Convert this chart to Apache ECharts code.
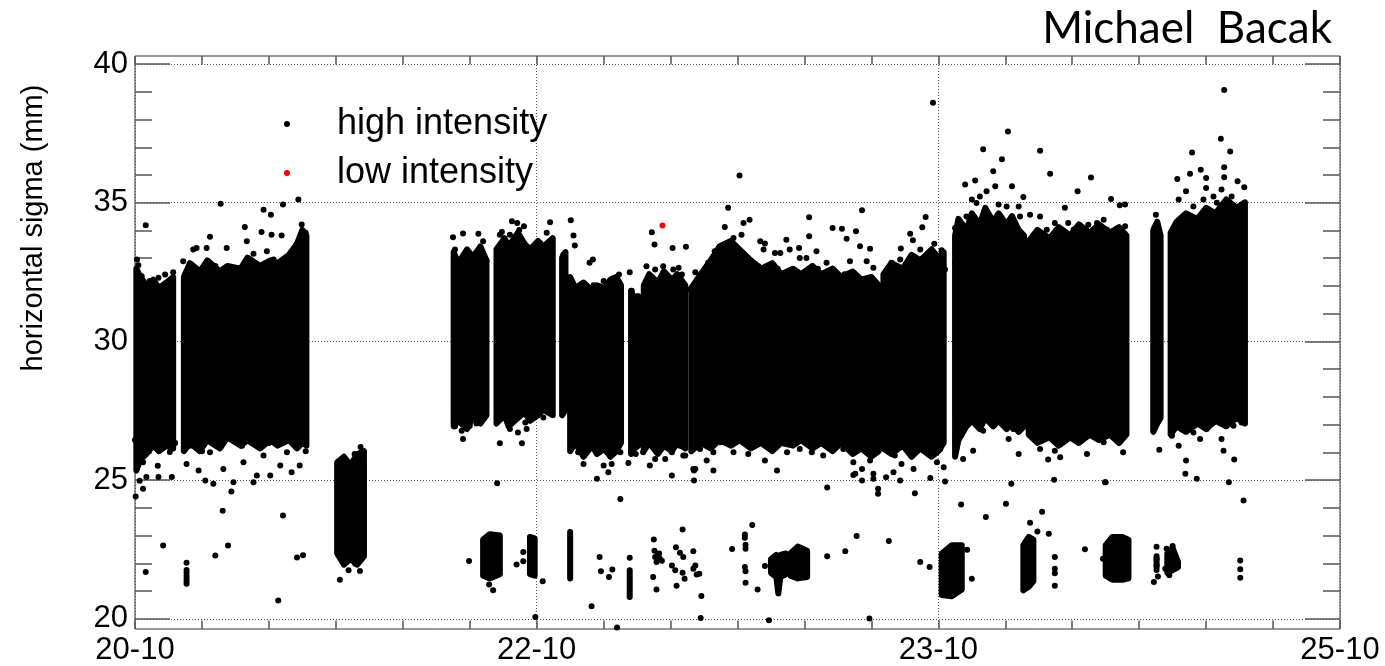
<!DOCTYPE html>
<html><head><meta charset="utf-8">
<script src="https://cdn.jsdelivr.net/npm/echarts@6/dist/echarts.min.js"></script>
<style>html,body{margin:0;padding:0;background:#fff}#chart{width:1385px;height:666px}</style>
</head><body><div id="chart"></div>
<script>
// ---- tick labels ----
const xLabelPos = [0, 6, 12, 18];
const xLabelText = ['20-10', '22-10', '23-10', '25-10'];
const yMajorTicks = [20, 25, 30, 35, 40];

// ---- outlines of the dense high-intensity clouds: [x, upper y, lower y] (x in axis units, 1 unit = one minor tick) ----
const c1 = [[0.02, 32.6, 25.3], [0.08, 32.3, 25.7], [0.17, 32.0, 25.9], [0.27, 32.2, 26.2], [0.36, 31.9, 26.0], [0.47, 32.1, 26.2], [0.57, 32.3, 26.1]];
const c2 = [[0.73, 32.3, 26.0], [0.82, 32.8, 26.3], [0.97, 32.5, 26.0], [1.08, 32.9, 26.4], [1.27, 32.5, 26.1], [1.38, 32.7, 26.5], [1.58, 32.6, 26.2], [1.68, 33.0, 26.4], [1.87, 32.7, 26.1], [2.02, 32.9, 26.4], [2.13, 32.8, 26.2], [2.3, 33.1, 26.4], [2.42, 33.5, 26.1], [2.5, 34.0, 26.3], [2.56, 33.8, 26.2]];
const c3 = [[3.02, 25.6, 22.3], [3.12, 25.8, 21.9], [3.22, 25.5, 22.1], [3.32, 25.9, 21.9], [3.42, 26.0, 22.2]];
const c4 = [[4.76, 33.2, 26.9], [4.83, 32.8, 27.1], [4.96, 33.3, 26.8], [5.04, 33.0, 27.2], [5.16, 33.4, 27.0], [5.25, 32.9, 27.3]];
const c5 = [[5.4, 33.3, 27.0], [5.52, 33.7, 27.3], [5.58, 33.4, 26.9], [5.72, 33.9, 27.2], [5.82, 33.5, 27.4], [5.9, 33.3, 27.1], [6.02, 33.6, 27.3], [6.1, 33.4, 27.5], [6.24, 33.7, 27.3]];
const c6 = [[6.38, 33.0, 27.3], [6.43, 33.2, 27.5]];
const c7 = [[6.5, 32.3, 26.0], [6.58, 31.9, 26.3], [6.7, 32.1, 25.8], [6.83, 31.8, 26.2], [6.9, 32.0, 25.9], [7.02, 31.9, 26.1], [7.1, 32.2, 25.8], [7.19, 32.3, 26.0], [7.26, 32.0, 26.3]];
const c8 = [[7.41, 31.8, 25.9], [7.46, 31.5, 26.1], [7.52, 31.6, 26.2]];
const c9 = [[7.6, 32.0, 26.0], [7.68, 32.4, 26.3], [7.81, 32.1, 25.9], [7.9, 32.5, 26.2], [8.02, 32.2, 26.0], [8.1, 32.4, 26.3], [8.22, 32.0, 26.1]];
const c10 = [[8.31, 31.9, 26.0], [8.45, 32.4, 26.3], [8.6, 32.9, 26.1], [8.73, 33.4, 26.4], [8.9, 33.6, 26.2], [9.03, 33.3, 26.4], [9.2, 32.9, 26.1], [9.35, 32.6, 26.3], [9.52, 32.8, 26.0], [9.65, 32.4, 26.3], [9.83, 32.6, 26.2], [9.95, 32.4, 26.4], [10.12, 32.7, 26.1], [10.25, 32.4, 26.3], [10.42, 32.6, 26.0], [10.55, 32.3, 26.3], [10.72, 32.5, 25.9], [10.85, 32.2, 26.1], [11.0, 32.3, 25.8], [11.11, 32.0, 26.0]];
const c11 = [[11.18, 32.4, 26.1], [11.3, 32.8, 25.9], [11.47, 32.6, 26.2], [11.6, 33.1, 25.8], [11.73, 32.9, 26.1], [11.9, 33.3, 25.8], [12.0, 33.0, 26.0], [12.08, 33.2, 26.3]];
const c12 = [[12.25, 33.8, 25.8], [12.3, 34.4, 26.4], [12.42, 34.0, 26.9], [12.5, 34.6, 27.1], [12.62, 34.2, 26.8], [12.7, 34.8, 27.2], [12.82, 34.3, 26.9], [12.9, 34.6, 27.1], [13.02, 34.2, 26.8], [13.1, 34.5, 27.0], [13.2, 34.0, 26.7], [13.28, 33.8, 26.9]];
const c13 = [[13.35, 33.6, 26.6], [13.48, 34.0, 26.3], [13.66, 33.7, 26.5], [13.8, 34.1, 26.2], [13.97, 33.8, 26.5], [14.1, 34.2, 26.3], [14.26, 33.9, 26.6], [14.4, 34.2, 26.4], [14.56, 33.9, 26.6], [14.7, 34.1, 26.3], [14.81, 33.8, 26.6]];
const c14 = [[15.21, 34.0, 26.7], [15.27, 34.3, 27.0], [15.32, 33.8, 27.2]];
const c15 = [[15.47, 33.9, 26.6], [15.56, 34.3, 26.9], [15.7, 34.6, 26.7], [15.87, 34.4, 27.0], [16.0, 34.8, 26.8], [16.14, 34.6, 27.1], [16.3, 35.1, 26.9], [16.46, 34.8, 27.2], [16.58, 35.0, 27.0]];
// small low-sigma groups
const l1 = [[5.2, 22.8, 21.5], [5.3, 23.0, 21.4], [5.45, 22.95, 21.55]];
const l2 = [[5.9, 22.9, 21.55], [5.97, 22.85, 21.5]];
const l3 = [[6.5, 23.08, 21.4], [6.5, 23.08, 21.4]];
const l4 = [[7.39, 21.69, 20.73], [7.39, 21.69, 20.73]];
const l5 = [[9.5, 22.1, 21.6], [9.58, 22.25, 21.45], [9.61, 22.2, 20.85], [9.64, 22.25, 21.45], [9.72, 22.3, 21.55]];
const l6 = [[9.79, 22.3, 21.5], [9.9, 22.55, 21.4], [10.04, 22.4, 21.45]];
const l7 = [[12.05, 22.3, 20.8], [12.2, 22.6, 20.75], [12.35, 22.6, 21.0]];
const l8 = [[13.27, 22.6, 20.97], [13.35, 22.9, 21.1], [13.42, 22.8, 21.3]];
const l9 = [[14.5, 22.6, 21.5], [14.6, 22.9, 21.35], [14.75, 22.9, 21.35], [14.84, 22.8, 21.4]];
const l10 = [[15.26, 22.2, 21.8], [15.26, 22.2, 21.8]];
const l11 = [[15.42, 22.3, 21.6], [15.5, 22.5, 21.7], [15.58, 22.0, 21.8]];

// ---- individual high-intensity points ----
const upperDots = [
 [0.10,32.33],[0.22,32.15],[0.35,32.27],[0.45,32.39],[0.57,32.47],[0.03,32.93],[0.05,32.72],[0.16,34.17],[0.3,31.9],[0.5,31.8],
 [0.72,32.87],[0.87,33.29],[0.92,33.35],[1.07,33.35],[1.12,33.75],[1.37,33.35],[1.64,34.11],[1.67,33.59],[1.89,33.93],[2.04,33.83],
 [2.19,33.8],[2.21,34.92],[1.28,34.95],[1.92,34.73],[2.03,34.55],[2.49,34.2],[2.44,35.1],[1.77,33.14],[1.97,33.23],[2.07,32.93],
 [1.65,32.87],[0.8,32.6],[1.0,32.5],[1.2,32.7],[1.35,32.5],[1.5,32.6],[1.75,32.5],[2.0,32.6],[2.2,32.8],[2.35,33.0],[2.5,33.6],[2.55,33.9],[2.4,33.3],
 [3.37,26.15],[3.12,25.75],[3.28,25.9],[3.06,25.42],[3.26,25.6],[3.36,25.84],
 [4.75,33.74],[4.90,33.87],[5.13,33.86],[5.20,33.59],[4.78,33.29],[4.86,32.93],[5.00,33.17],[5.15,33.05],[5.05,32.69],[5.20,32.69],[4.90,32.33],
 [4.8,32.6],[5.0,32.5],[5.1,32.8],[5.25,32.9],
 [5.63,34.31],[5.71,34.25],[5.81,34.13],[6.20,34.28],[5.74,34.0],[5.48,33.93],[5.45,33.83],[5.60,33.83],[5.70,33.59],[6.05,33.53],
 [6.15,33.9],[6.21,33.47],[5.88,33.23],[5.48,33.17],[6.10,33.23],[6.0,32.81],[5.55,32.93],
 [6.40,33.11],[6.55,33.8],[6.57,33.44],[6.51,34.35],[6.84,32.93],[6.79,32.81],
 [6.67,31.95],[6.85,32.0],[7.0,32.15],[7.12,32.21],[7.17,32.27],[7.23,32.39],[6.90,31.61],[7.05,31.61],[6.75,31.49],[7.15,31.49],[7.0,31.85],[7.14,32.24],
 [7.39,32.47],[7.42,31.8],[7.5,31.6],
 [7.64,32.69],[7.77,32.57],[7.89,32.69],[7.89,32.45],[8.04,32.57],[8.12,32.63],[8.17,32.39],[7.99,32.15],[7.82,32.15],[7.69,31.97],
 [7.92,31.79],[8.09,31.85],[8.24,31.85],[7.72,33.92],[7.76,33.47],[8.03,33.35],[8.23,33.39],
 [8.81,34.11],[8.86,34.8],[9.03,35.97],[9.09,34.25],[9.18,34.37],[8.94,33.71],[9.06,33.83],[9.34,33.59],[9.41,33.51],[9.73,33.65],
 [9.64,33.17],[9.78,33.29],[9.92,33.35],[10.07,33.77],[10.07,34.46],[10.18,33.23],[10.42,34.07],[10.56,34.04],[10.63,33.68],[10.77,33.95],
 [10.83,33.41],[10.86,34.71],[10.98,33.32],[8.66,33.23],[8.56,32.81],[8.37,32.47],[10.33,32.81],[10.43,32.57],[10.68,32.87],[10.93,32.87],
 [11.03,32.63],[10.03,32.99],[9.93,32.99],[9.56,33.17],[9.39,33.29],[9.31,32.69],[9.49,32.51],[9.78,32.33],
 [8.45,31.9],[8.7,32.5],[9.6,32.6],[10.2,32.6],[10.6,32.4],[10.9,32.2],[11.05,31.9],
 [11.44,33.33],[11.58,33.86],[11.62,33.63],[11.76,34.1],[11.81,34.47],[11.94,33.5],[12.05,33.27],[11.30,32.81],[11.43,32.93],[11.53,32.69],
 [11.73,33.29],[11.83,33.05],[11.93,32.81],[11.28,32.33],[11.63,32.45],[12.10,32.57],[11.92,38.6],
 [12.40,35.64],[12.55,35.79],[12.67,36.92],[12.82,36.12],[12.85,35.58],[12.95,36.56],[13.04,37.56],[13.10,35.58],[13.27,35.19],[12.90,34.92],
 [12.72,35.4],[12.50,35.1],[12.62,35.21],[12.25,34.07],[12.25,32.81],[12.42,34.49],[12.67,34.25],[12.92,34.43],[13.02,34.85],[13.20,34.85],
 [13.22,34.49],[12.52,33.77],[12.77,33.89],[13.12,33.89],[12.32,33.65],[13.20,33.41],[12.57,34.97],
 [13.52,36.86],[13.67,36.03],[14.28,35.9],[14.08,35.4],[14.58,35.12],[14.71,34.89],[14.79,34.92],[13.37,34.55],[13.52,34.49],[13.62,34.01],
 [13.74,34.25],[13.89,34.8],[13.94,34.25],[14.02,34.01],[14.12,33.89],[14.24,34.19],[14.37,34.25],[14.47,34.37],[14.52,34.01],[14.61,33.89],
 [14.79,34.13],[14.32,33.77],[13.77,33.65],[13.47,33.41],[13.97,33.29],[14.22,33.17],[14.57,33.29],[14.71,33.41],
 [15.25,34.55],[15.26,34.01],[15.24,33.53],[15.29,33.29],
 [15.57,35.84],[15.76,36.03],[15.79,36.8],[15.92,36.18],[16.0,35.88],[16.22,37.3],[16.27,39.06],[16.36,36.84],[16.27,36.27],[16.27,35.91],
 [16.47,35.76],[16.57,35.54],[15.70,35.4],[16.0,35.52],[16.11,35.21],[16.23,35.46],[16.38,35.21],[16.53,34.85],[15.59,35.1],[15.49,33.89],
 [15.56,34.25],[15.81,34.85],[15.96,35.1],[16.16,34.98],[16.41,34.49],[16.56,34.13],[15.70,34.01],[15.91,34.25],[16.22,34.73]
];
const lowerDots = [
 [0.0,26.4],[0.17,26.2],[0.12,25.6],[0.34,25.47],[0.52,25.97],[0.55,25.07],[0.07,24.93],[0.17,25.07],[0.35,25.07],[0.01,24.36],[0.12,24.64],
 [0.2,26.0],[0.4,26.2],[0.6,26.3],[0.08,25.9],
 [0.77,25.54],[0.95,25.3],[1.05,24.94],[1.17,24.82],[1.32,25.36],[1.47,24.88],[1.62,25.6],[1.77,24.88],[1.82,25.12],[2.02,25.12],
 [2.17,25.48],[2.34,25.24],[2.46,25.48],[2.27,25.96],[1.44,24.54],[1.31,23.85],[2.21,23.67],[1.92,25.84],[1.12,25.96],[0.82,26.2],
 [0.9,26.3],[1.3,26.4],[1.6,26.2],[2.0,26.3],[2.4,26.2],[2.55,26.0],[1.0,26.0],
 [3.06,22.41],[3.19,21.69],[3.06,21.35],[3.36,21.67],[3.29,21.93],[3.06,22.35],[3.21,22.11],
 [4.90,27.1],[4.88,26.74],[4.90,26.44],[5.0,26.92],[5.18,27.34],[4.99,26.9],[4.78,26.9],[5.1,27.0],
 [5.45,27.64],[5.60,26.8],[5.63,27.16],[5.83,27.04],[5.90,27.34],[6.10,27.22],[6.17,27.4],[5.45,26.29],[5.78,26.29],[5.85,26.8],[5.72,26.68],[5.41,24.84],
 [6.40,27.4],
 [6.60,26.68],[6.62,26.2],[6.75,26.44],[6.90,26.08],[7.05,25.96],[7.12,26.2],[7.25,25.96],[6.70,25.84],[6.70,25.54],[6.62,25.96],
 [6.90,25.0],[7.0,25.48],[7.07,25.24],[7.12,25.54],[7.37,25.57],[7.25,24.27],
 [7.42,26.0],[7.48,25.9],
 [7.64,26.44],[7.77,26.08],[7.89,26.26],[8.02,25.96],[8.14,26.2],[8.22,25.84],[7.59,25.96],[7.69,25.48],[7.77,25.72],[7.92,25.72],
 [8.02,25.12],[8.19,25.84],[8.34,25.36],[8.35,24.94],[8.35,25.3],
 [8.34,26.32],[8.44,26.08],[8.54,25.66],[8.37,25.36],[8.64,25.96],[8.74,26.32],[8.94,25.96],[9.16,25.9],[9.34,26.32],[9.41,25.66],
 [9.59,25.3],[9.74,25.96],[9.93,26.08],[10.11,25.96],[10.28,25.84],[10.43,26.2],[10.58,26.08],[10.73,25.6],[10.86,25.36],[10.98,25.66],
 [11.03,25.18],[10.76,25.18],[8.64,25.3],[10.73,25.14],[10.86,24.94],[11.03,25.0],[11.10,24.64],[11.10,24.46],[10.34,24.69],
 [9.0,26.5],[9.5,26.5],[10.0,26.6],[8.5,26.6],
 [11.23,26.32],[11.35,25.84],[11.45,25.54],[11.63,25.36],[11.63,26.14],[11.83,25.96],[11.98,25.6],[12.08,25.42],[12.03,26.08],[11.33,25.24],
 [11.22,25.06],[11.43,24.94],[11.88,25.03],[11.65,24.48],
 [12.28,27.52],[12.25,26.32],[12.37,25.72],[12.52,26.02],[12.42,27.04],[12.57,27.16],[12.67,26.74],[12.82,27.52],[12.97,27.16],[13.05,26.44],
 [13.12,26.8],[13.20,25.9],[13.25,27.52],[12.77,27.76],[12.47,27.88],[12.10,24.9],[12.34,24.07],[13.09,24.82],[13.01,24.1],[12.71,23.62],
 [13.37,26.68],[13.52,26.08],[13.64,25.7],[13.74,26.02],[13.82,25.78],[14.07,26.38],[14.22,25.9],[14.37,26.56],[14.47,26.32],[14.59,26.68],
 [14.76,25.96],[14.71,26.8],[13.92,27.04],[13.62,27.16],[14.17,27.04],[13.73,24.97],[14.50,24.88],[14.49,24.88],
 [15.26,27.52],[15.29,27.28],[15.30,26.05],
 [15.49,27.52],[15.51,26.92],[15.49,26.56],[15.59,26.2],[15.70,25.66],[15.69,25.18],[15.86,25.0],[15.81,26.68],[15.91,26.44],[16.01,26.8],
 [16.11,27.04],[16.23,26.44],[16.26,26.02],[16.41,26.92],[16.53,27.04],[16.42,25.7],[16.56,27.88],[16.34,24.88],[16.56,24.22]
];
const lowGroupDots = [
 [0.16,21.63],[0.42,22.59],[0.77,21.97],[0.77,21.7],[0.77,21.6],[0.77,21.5],[0.77,21.4],[0.77,21.3],[0.77,21.21],[1.2,22.23],[1.39,22.59],
 [2.14,20.6],[2.42,22.16],[2.51,22.24],[4.99,22.03],[5.29,21.18],[5.35,20.97],[5.80,22.35],[5.80,22.02],[5.70,21.9],[6.09,21.3],[5.98,20.0],
 [6.82,20.39],[6.94,22.17],[6.96,21.66],[7.08,21.45],[7.13,21.72],[7.20,19.62],[7.39,22.15],
 [7.75,22.81],[7.77,22.17],[7.79,21.99],[7.74,21.45],[7.79,21.0],[7.84,22.11],[7.81,22.25],[7.87,22.04],[7.76,22.4],[7.83,22.3],
 [8.02,21.87],[8.07,21.69],[8.09,21.13],[8.08,22.53],[8.18,23.17],[8.14,22.33],[8.19,22.17],[8.18,21.6],[8.21,21.39],
 [8.34,22.38],[8.37,21.87],[8.34,21.75],[8.39,21.54],[8.43,21.57],[8.46,20.76],[8.45,19.97],[9.47,19.89],
 [8.92,22.46],[9.11,22.99],[9.11,22.87],[9.12,22.62],[9.12,22.47],[9.11,21.81],[9.12,21.66],[9.12,21.24],[9.22,23.33],[9.30,21.0],[9.41,21.85],
 [10.34,22.2],[10.61,22.38],[10.78,22.93],[11.26,22.75],[11.73,21.99],[11.87,21.81],[10.97,19.95],
 [12.43,22.44],[12.50,21.39],[13.55,23.81],[13.37,23.41],[13.48,23.1],[13.65,23.01],[13.74,22.17],[13.74,21.75],[13.74,21.59],[13.74,21.13],
 [14.19,22.45],[14.46,22.11],[16.51,22.05],[16.51,21.73],[16.51,21.42],
 [15.26,22.54],[15.26,22.11],[15.26,21.87],[15.28,21.47],[15.22,21.27],[15.26,21.7],
 [15.41,22.47],[15.50,22.57],[15.45,21.51],[15.39,21.75],[15.56,21.87],[15.55,21.99],[15.44,22.1],[15.44,21.9],[15.48,22.3]
];
// ---- low-intensity points ----
const lowIntensityDots = [[7.88, 34.16]];

// ---- layout ----
const frameTop = 56, frameBottomPx = 630.7, frameLeft = 135, frameRight = 1340;
const yLo = 19.57, yHi = 40.29;
const W = 1385, H = 666;
const pxPerY = (frameBottomPx - frameTop) / (yHi - yLo);
const grid1Top = frameTop + (yHi - 40) * pxPerY;
const grid1Bottom = (H - frameBottomPx) + (20 - yLo) * pxPerY;

const blocks = [c1, c2, c3, c4, c5, c6, c7, c8, c9, c10, c11, c12, c13, c14, c15, l1, l2, l3, l4, l5, l6, l7, l8, l9, l10, l11];

function blockSeries(rows) {
  return {
    type: 'custom', xAxisIndex: 0, yAxisIndex: 0, silent: true, clip: false, z: 3,
    data: [[rows[0][0], rows[0][1]]],
    renderItem: function (params, api) {
      const pts = [];
      for (let i = 0; i < rows.length; i++) pts.push(api.coord([rows[i][0], rows[i][1]]));
      for (let i = rows.length - 1; i >= 0; i--) pts.push(api.coord([rows[i][0], rows[i][2]]));
      return { type: 'polygon', shape: { points: pts },
        style: { fill: '#000', stroke: '#000', lineWidth: 6, lineJoin: 'round' } };
    }
  };
}

const tickStyle = { color: '#555', width: 1.5 };
const labelFont = { fontFamily: 'Liberation Sans', fontSize: 31, color: '#000' };

const chart = echarts.init(document.getElementById('chart'), null, { renderer: 'canvas', width: W, height: H });
chart.setOption({
  animation: false,
  backgroundColor: '#fff',
  title: {
    text: 'Michael  Bacak', right: 48, top: 2,
    textStyle: { fontFamily: 'Lato', fontSize: 44, fontWeight: 'normal', color: '#000' }
  },
  legend: {
    left: 284, top: 104, orient: 'vertical', padding: 0, itemGap: 9,
    itemWidth: 6, itemHeight: 6, selectedMode: false,
    textStyle: { fontFamily: 'Liberation Sans', fontSize: 36, color: '#000', padding: [0, 0, 0, 42], lineHeight: 40 },
    data: [{ name: 'high intensity', icon: 'circle' }, { name: 'low intensity', icon: 'circle' }]
  },
  graphic: [{
    type: 'text', x: 34, y: 228, rotation: Math.PI / 2,
    style: { text: 'horizontal sigma (mm)', font: '29px "Liberation Sans"', fill: '#000', align: 'center', verticalAlign: 'middle' }
  }],
  grid: [
    { left: frameLeft, right: W - frameRight, top: frameTop, bottom: H - frameBottomPx, show: true, borderColor: '#333', borderWidth: 1, backgroundColor: 'transparent' },
    { left: frameLeft, right: W - frameRight, top: grid1Top, bottom: grid1Bottom, show: false }
  ],
  xAxis: [
    { gridIndex: 0, type: 'value', min: 0, max: 18, interval: 1, position: 'bottom',
      axisLine: { show: false }, splitLine: { show: false },
      axisTick: { show: true, inside: true, length: 8.5, lineStyle: tickStyle },
      axisLabel: Object.assign({ margin: 6, showMinLabel: true, showMaxLabel: true,
        formatter: function (v) { const i = xLabelPos.indexOf(Math.round(v)); return i >= 0 ? xLabelText[i] : ''; } }, labelFont) },
    { gridIndex: 0, type: 'value', min: 0, max: 18, interval: 1, position: 'top',
      axisLine: { show: false }, splitLine: { show: false }, axisLabel: { show: false },
      axisTick: { show: true, inside: true, length: 8.5, lineStyle: tickStyle } },
    { gridIndex: 0, type: 'value', min: 0, max: 18, interval: 6, position: 'bottom',
      axisLine: { show: false }, axisTick: { show: false }, axisLabel: { show: false },
      splitLine: { show: true, lineStyle: { type: [1, 2], color: '#555', width: 1 } } },
    { gridIndex: 1, type: 'value', min: 0, max: 18, show: false }
  ],
  yAxis: [
    { gridIndex: 0, type: 'value', min: yLo, max: yHi, show: false },
    { gridIndex: 1, type: 'value', min: 20, max: 40, interval: 1, position: 'left',
      axisLine: { show: false }, splitLine: { show: false }, axisLabel: { show: false },
      axisTick: { show: true, inside: true, length: 17, lineStyle: tickStyle } },
    { gridIndex: 1, type: 'value', min: 20, max: 40, interval: 5, position: 'left',
      axisLine: { show: false },
      axisTick: { show: true, inside: true, length: 35, lineStyle: tickStyle },
      axisLabel: Object.assign({ margin: 7, showMinLabel: true, showMaxLabel: true,
        formatter: function (v) { return yMajorTicks.indexOf(Math.round(v)) >= 0 ? String(Math.round(v)) : ''; } }, labelFont),
      splitLine: { show: true, lineStyle: { type: [1, 2], color: '#555', width: 1 } } },
    { gridIndex: 1, type: 'value', min: 20, max: 40, interval: 1, position: 'right',
      axisLine: { show: false }, splitLine: { show: false }, axisLabel: { show: false },
      axisTick: { show: true, inside: true, length: 17, lineStyle: tickStyle } },
    { gridIndex: 1, type: 'value', min: 20, max: 40, interval: 5, position: 'right',
      axisLine: { show: false }, splitLine: { show: false }, axisLabel: { show: false },
      axisTick: { show: true, inside: true, length: 35, lineStyle: tickStyle } }
  ],
  series: blocks.map(blockSeries).concat([
    { name: 'high intensity', type: 'scatter', xAxisIndex: 0, yAxisIndex: 0, symbol: 'circle', symbolSize: 6, clip: false, z: 4,
      itemStyle: { color: '#000', opacity: 1 }, data: upperDots.concat(lowerDots, lowGroupDots) },
    { name: 'low intensity', type: 'scatter', xAxisIndex: 0, yAxisIndex: 0, symbol: 'circle', symbolSize: 6, clip: false, z: 5,
      itemStyle: { color: '#ff0000', opacity: 1 }, data: lowIntensityDots }
  ])
});
</script>
</body></html>
